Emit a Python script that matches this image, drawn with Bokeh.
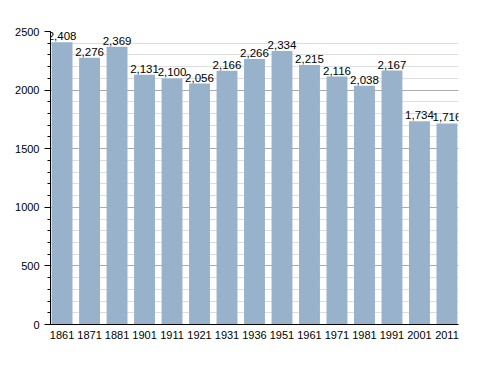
from bokeh.plotting import figure
from bokeh.models import ColumnDataSource, Range1d, FixedTicker, SingleIntervalTicker
from bokeh.core.properties import value
from bokeh.embed import file_html
from bokeh.resources import INLINE

years = ["1861", "1871", "1881", "1901", "1911", "1921", "1931", "1936",
         "1951", "1961", "1971", "1981", "1991", "2001", "2011"]
population = [2408, 2276, 2369, 2131, 2100, 2056, 2166, 2266,
              2334, 2215, 2116, 2038, 2167, 1734, 1716]
y_ticks = [0, 500, 1000, 1500, 2000, 2500]

xs = list(range(len(years)))
src = ColumnDataSource(dict(
    x=xs, top=population, label=["{:,}".format(v) for v in population]))

FONT = "Liberation Sans"

p = figure(width=478, height=363, frame_width=408, frame_height=293,
           min_border_left=50, min_border_right=20, min_border_top=31,
           min_border_bottom=39, output_backend="svg", toolbar_location=None,
           x_range=Range1d(-0.42, len(years) - 1 + 0.42),
           y_range=Range1d(0, 2500))
p.outline_line_color = None

p.vbar(x="x", top="top", bottom=0, width=0.76, source=src,
       fill_color="#98b2cb", line_color=None)
p.text(x="x", y="top", text="label", source=src, text_align="center",
       text_baseline="bottom", y_offset=-2, text_font=value(FONT),
       text_font_size="11.5px", text_color="black")

# x axis
p.xaxis.ticker = FixedTicker(ticks=xs)
p.xaxis.major_label_overrides = {i: y for i, y in enumerate(years)}
p.xaxis.major_tick_line_color = None
p.xaxis.minor_tick_line_color = None
p.xaxis.axis_line_color = "black"
p.xaxis.major_label_text_font = FONT
p.xaxis.major_label_text_font_size = "11px"
p.xaxis.major_label_text_color = "black"
p.xaxis.major_label_standoff = 0
p.xgrid.grid_line_color = None

# y axis
p.yaxis.ticker = SingleIntervalTicker(interval=500, num_minor_ticks=5)
p.yaxis.axis_line_color = "black"
p.yaxis.major_tick_line_color = "black"
p.yaxis.minor_tick_line_color = "black"
p.yaxis.major_tick_out = 6
p.yaxis.major_tick_in = 0
p.yaxis.minor_tick_out = 3
p.yaxis.minor_tick_in = 0
p.yaxis.major_label_text_font = FONT
p.yaxis.major_label_text_font_size = "11px"
p.yaxis.major_label_text_color = "black"
p.yaxis.major_label_standoff = 5
p.ygrid.grid_line_color = "#aaaaaa"
p.ygrid.minor_grid_line_color = "#dddddd"

open("out.html", "w").write(file_html(p, INLINE))
